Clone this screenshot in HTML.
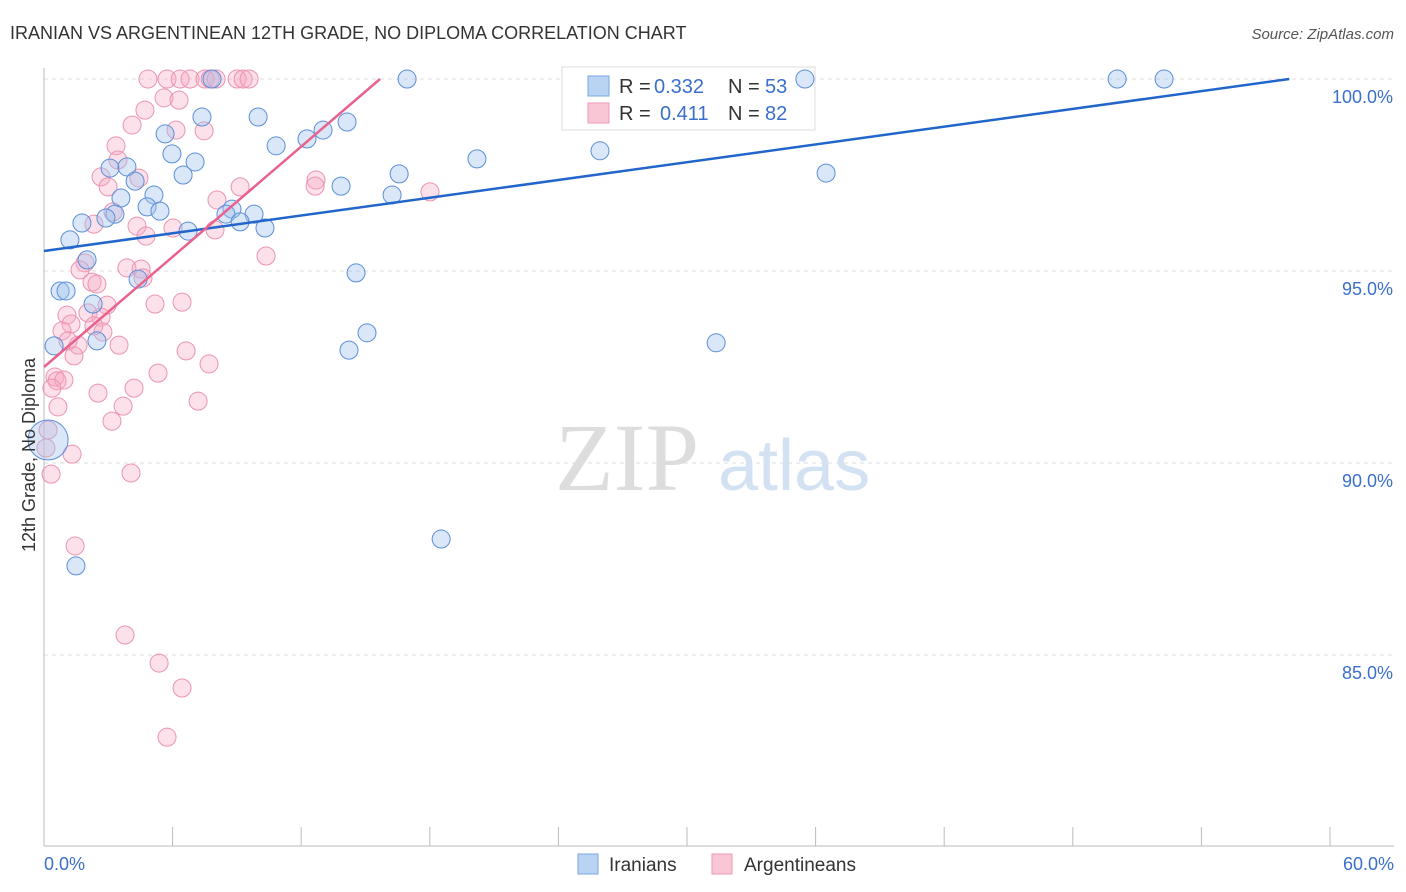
<!DOCTYPE html>
<html><head><meta charset="utf-8"><style>
body{margin:0;background:#fff;font-family:"Liberation Sans",sans-serif;}
svg{display:block}
</style></head><body>
<svg id="chart" width="1406" height="892" viewBox="0 0 1406 892" xmlns="http://www.w3.org/2000/svg">
<text x="10" y="39" font-size="18" fill="#333">IRANIAN VS ARGENTINEAN 12TH GRADE, NO DIPLOMA CORRELATION CHART</text>
<text x="1394" y="39" font-size="15" fill="#555" font-style="italic" text-anchor="end">Source: ZipAtlas.com</text>
<g id="grid"></g>
<g id="axes"></g>
<text x="555" y="490" font-size="96" fill="#ddd" font-family="Liberation Serif,serif">ZIP</text>
<text x="718" y="490" font-size="72" fill="#d3e2f3">atlas</text>
<g>
<rect x="562" y="67" width="253" height="63" fill="#fff" stroke="#ddd"/>
<rect x="588" y="76" width="21" height="20" fill="#b9d3f3" stroke="#7aa7e0"/>
<rect x="588" y="103" width="21" height="20" fill="#f9c6d6" stroke="#ef9ab5"/>
<text x="619" y="93" font-size="20" fill="#333">R =</text>
<text x="654" y="93" font-size="20" fill="#3a6fcc">0.332</text>
<text x="728" y="93" font-size="20" fill="#333">N =</text>
<text x="765" y="93" font-size="20" fill="#3a6fcc">53</text>
<text x="619" y="120" font-size="20" fill="#333">R =</text>
<text x="660" y="120" font-size="20" fill="#3a6fcc">0.411</text>
<text x="728" y="120" font-size="20" fill="#333">N =</text>
<text x="765" y="120" font-size="20" fill="#3a6fcc">82</text>
</g>
<g id="pts"></g>
<g id="lines"></g>
<text transform="translate(35,455) rotate(-90)" font-size="18" fill="#333" text-anchor="middle">12th Grade, No Diploma</text>
<g>
<rect x="578" y="854" width="20" height="20" fill="#b9d3f3" stroke="#7aa7e0"/>
<text x="609" y="871" font-size="19" fill="#333">Iranians</text>
<rect x="712" y="854" width="20" height="20" fill="#f9c6d6" stroke="#ef9ab5"/>
<text x="744" y="871" font-size="19" fill="#333">Argentineans</text>
</g>
</svg>
<script>
const yTicks=[100,95,90,85];
const yTickLabels=["100.0%","95.0%","90.0%","85.0%"];
const xTickLabels=["0.0%","60.0%"];
const blueX=[7.84,16.94,35.5,50.07,52.26,7.37,9.99,5.65,13.02,12.27,14.14,10.83,5.97,7.05,3.08,3.87,6.49,4.25,16.57,20.2,25.94,36.49,13.86,5.13,16.24,3.59,4.81,5.41,8.77,8.49,9.8,3.31,2.89,1.77,9.15,10.31,6.72,1.21,2.01,14.56,4.39,0.75,1.03,2.29,2.47,0.47,15.07,14.23,31.36,0.19,18.53,1.49];
const blueY=[100,100,100,100,100,99.01,99.01,98.57,98.67,98.44,98.88,98.26,98.05,97.84,97.68,97.71,97.5,97.34,97.53,97.92,98.13,97.55,97.21,96.98,96.98,96.9,96.67,96.56,96.61,96.48,96.48,96.48,96.38,96.25,96.28,96.12,96.04,95.81,95.29,94.95,94.79,94.48,94.48,94.14,93.18,93.05,93.39,92.94,93.13,90.6,88.02,87.32];
const pinkX=[4.85,5.74,6.35,6.81,7.51,7.75,8.03,9.01,9.29,9.57,5.6,6.3,4.71,6.16,7.47,4.11,3.36,3.45,2.66,2.99,4.43,12.69,12.65,9.15,18.01,8.07,3.22,2.33,4.34,6.02,4.76,7.98,10.36,1.91,1.68,3.87,4.53,4.62,2.24,2.47,5.18,6.44,2.94,1.07,1.26,2.05,2.66,2.33,0.84,2.75,1.59,1.12,3.5,6.63,1.4,7.7,5.32,0.51,0.61,0.93,0.37,4.2,2.52,0.65,3.69,7.19,3.17,0.19,0.09,1.31,0.33,4.06,1.45,3.78,5.37,6.44,5.74];
const pinkY=[100,100,100,100,100,100,100,100,100,100,99.51,99.45,99.19,98.67,98.65,98.8,98.26,97.89,97.45,97.19,97.42,97.37,97.21,97.19,97.06,96.85,96.54,96.22,96.17,96.12,95.91,96.07,95.39,95.21,95.03,95.08,95.05,94.82,94.71,94.66,94.14,94.19,94.11,93.85,93.62,93.91,93.8,93.57,93.44,93.41,93.07,93.18,93.07,92.92,92.79,92.58,92.34,92.24,92.14,92.16,91.95,91.95,91.82,91.46,91.48,91.61,91.09,90.86,90.39,90.23,89.71,89.74,87.84,85.52,84.79,84.14,82.86];
const blueLine=[0,95.52,58.1,100];
const pinkLine=[0,92.5,15.68,100];
const NS="http://www.w3.org/2000/svg";
const X=v=>44+v*1286/60, Y=v=>79+(100-v)*38.4;
function mk(t,a,p){const e=document.createElementNS(NS,t);for(const k in a)e.setAttribute(k,a[k]);p.appendChild(e);return e;}
const grid=document.getElementById('grid'),axes=document.getElementById('axes');
yTicks.forEach((t,i)=>{
 const l=mk('line',{x1:44,x2:1394,y1:Y(t),y2:Y(t),stroke:'#ddd','stroke-dasharray':'4,4'},grid);
 
 
 const tx=mk('text',{x:1393,y:Y(t)+24,'font-size':18,fill:'#3a6fcc','text-anchor':'end'},axes);
 tx.textContent=yTickLabels[i];
 
 
});
mk('line',{x1:44,x2:44,y1:68,y2:846,stroke:'#bbb'},axes);
mk('line',{x1:44,x2:1394,y1:846,y2:846,stroke:'#bbb'},axes);
for(let i=0;i<=10;i++){const x=44+i*1286/10;mk('line',{x1:x,x2:x,y1:827,y2:846,stroke:'#bbb'},axes);}
[[0,'start',44],[1,'end',1394]].forEach(([i,a,x])=>{const t=mk('text',{x:x,y:870,'font-size':18,fill:'#3a6fcc','text-anchor':a},axes);t.textContent=xTickLabels[i];});
const pts=document.getElementById('pts');
pinkX.forEach((v,i)=>{const c=mk('circle',{cx:X(v),cy:Y(pinkY[i]),r:9,fill:'rgba(246,170,195,0.35)',stroke:'#eb93b0','stroke-width':1},pts);
 
 });
blueX.forEach((v,i)=>{const big=i==49;const c=mk('circle',{cx:X(v),cy:Y(blueY[i]),r:big?20:9,fill:'rgba(160,195,238,0.4)',stroke:'#5b8ed8','stroke-width':1},pts);
 
 });
const lines=document.getElementById('lines');
const bl=mk('line',{x1:X(blueLine[0]),y1:Y(blueLine[1]),x2:X(blueLine[2]),y2:Y(blueLine[3]),stroke:'#2266cc','stroke-width':2.5},lines);


const pl=mk('line',{x1:X(pinkLine[0]),y1:Y(pinkLine[1]),x2:X(pinkLine[2]),y2:Y(pinkLine[3]),stroke:'#e8628c','stroke-width':2.5},lines);


</script>
</body></html>
